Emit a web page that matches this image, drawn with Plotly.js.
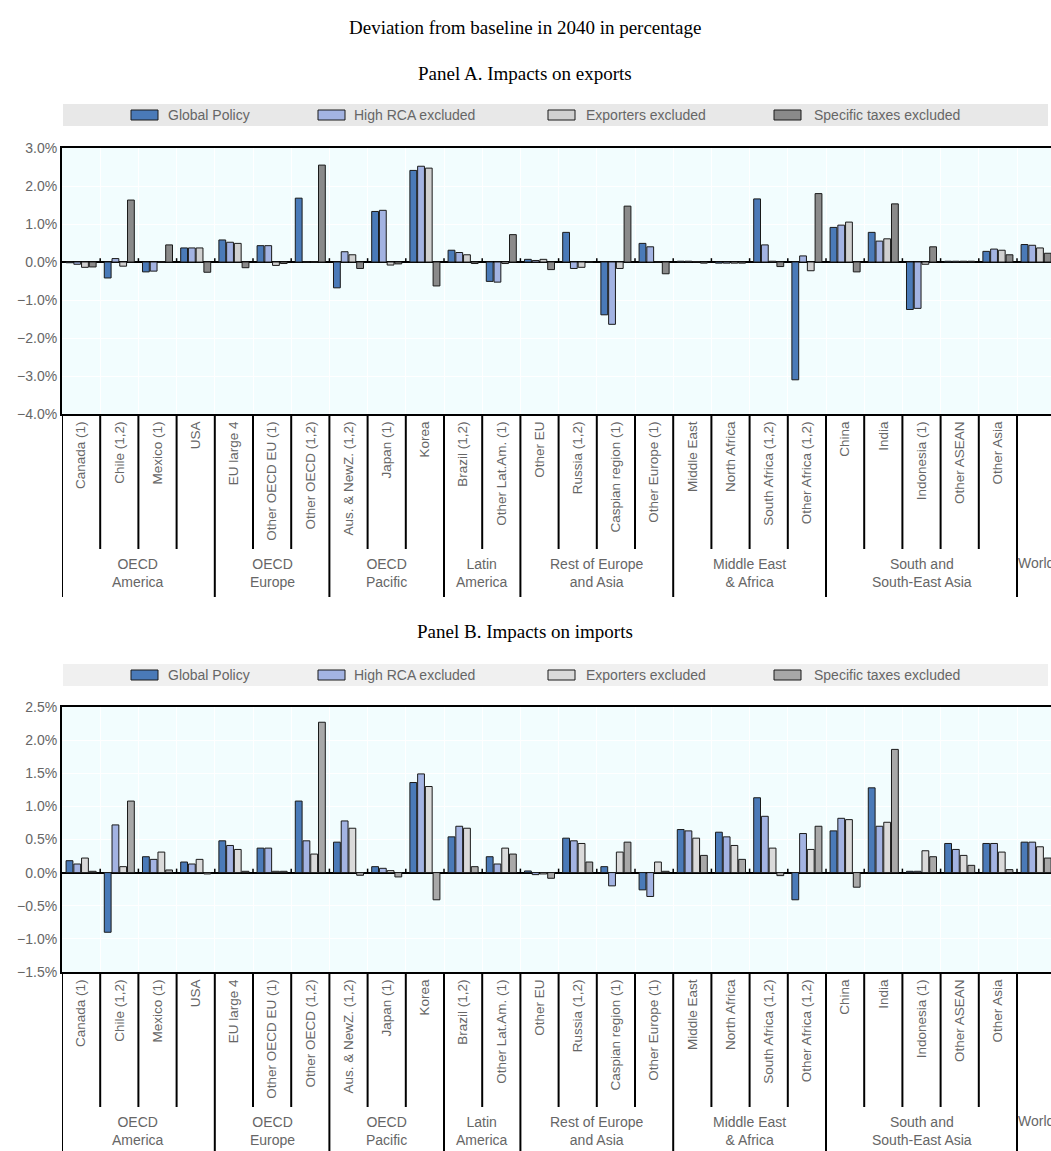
<!DOCTYPE html>
<html>
<head>
<meta charset="utf-8">
<script src="https://cdn.plot.ly/plotly-3.0.1.min.js"></script>
<style>
  body { margin: 0; background: #fff; }
  #chart { width: 1051px; height: 1151px; }
</style>
</head>
<body>
<div id="chart"></div>
<script>
// categories (regions) and their group headers
var categories = ["Canada (1)", "Chile (1,2)", "Mexico (1)", "USA", "EU large 4", "Other OECD EU (1)",
    "Other OECD (1,2)", "Aus. & NewZ. (1,2)", "Japan (1)", "Korea", "Brazil (1,2)", "Other Lat.Am. (1)",
    "Other EU", "Russia (1,2)", "Caspian region (1)", "Other Europe (1)", "Middle East", "North Africa",
    "South Africa (1,2)", "Other Africa (1,2)", "China", "India", "Indonesia (1)", "Other ASEAN",
    "Other Asia", "World"];
var groupNames = ["OECD<br>America", "OECD<br>Europe", "OECD<br>Pacific", "Latin<br>America",
    "Rest of Europe<br>and Asia", "Middle East<br>& Africa", "South and<br>South-East Asia", "World"];
var groupStarts = [0, 4, 7, 10, 12, 16, 20, 25];
var seriesNames = ["Global Policy", "High RCA excluded", "Exporters excluded", "Specific taxes excluded"];

// Panel A - exports, % deviation
var exportsGlobal = [-0.02, -0.42, -0.26, 0.37, 0.58, 0.43, 1.68, -0.68, 1.33, 2.41, 0.31, -0.51,
    0.07, 0.78, -1.39, 0.49, 0.02, -0.03, 1.66, -3.10, 0.91, 0.78, -1.25, 0.02, 0.28, 0.46];
var exportsHighRca = [-0.06, 0.09, -0.24, 0.37, 0.52, 0.43, 0.00, 0.27, 1.36, 2.52, 0.25, -0.53,
    0.04, -0.17, -1.64, 0.40, 0.02, -0.03, 0.45, 0.16, 0.97, 0.55, -1.22, 0.02, 0.34, 0.44];
var exportsExporters = [-0.14, -0.11, 0.00, 0.37, 0.49, -0.09, 0.00, 0.19, -0.08, 2.47, 0.19, -0.04,
    0.07, -0.14, -0.17, 0.00, 0.01, -0.03, 0.02, -0.23, 1.05, 0.61, -0.06, 0.02, 0.31, 0.37];
var exportsSpecific = [-0.13, 1.63, 0.45, -0.27, -0.15, -0.04, 2.55, -0.17, -0.05, -0.63, -0.04, 0.72,
    -0.20, 0.00, 1.47, -0.31, -0.03, -0.03, -0.12, 1.80, -0.26, 1.53, 0.40, 0.02, 0.19, 0.23];

// Panel B - imports, % deviation
var importsGlobal = [0.18, -0.90, 0.24, 0.16, 0.48, 0.37, 1.08, 0.46, 0.09, 1.36, 0.54, 0.24,
    0.025, 0.52, 0.09, -0.26, 0.65, 0.61, 1.13, -0.41, 0.63, 1.28, 0.02, 0.44, 0.44, 0.46];
var importsHighRca = [0.13, 0.72, 0.20, 0.13, 0.41, 0.37, 0.48, 0.78, 0.065, 1.49, 0.70, 0.13,
    -0.03, 0.48, -0.20, -0.36, 0.63, 0.54, 0.85, 0.59, 0.82, 0.70, 0.02, 0.35, 0.44, 0.46];
var importsExporters = [0.22, 0.09, 0.31, 0.20, 0.35, 0.02, 0.28, 0.67, 0.03, 1.30, 0.67, 0.37,
    -0.02, 0.44, 0.31, 0.16, 0.52, 0.41, 0.37, 0.35, 0.80, 0.76, 0.33, 0.26, 0.31, 0.39];
var importsSpecific = [0.02, 1.08, 0.04, -0.02, 0.02, 0.02, 2.27, -0.04, -0.065, -0.41, 0.09, 0.28,
    -0.085, 0.16, 0.46, 0.02, 0.26, 0.20, -0.045, 0.70, -0.22, 1.86, 0.24, 0.11, 0.045, 0.22];

var W = 1051, H = 1151;
function px(x) { return x / W; }
function py(y) { return 1 - y / H; }

var colorsA = ["#4a7ab8", "#a3b3e2", "#d0d0d0", "#8a8a8a"];
var colorsB = ["#4a7ab8", "#a3b3e2", "#dadada", "#a8a8a8"];
var labelFont = {family: "Liberation Sans, Arial, sans-serif", size: 14, color: "#666666"};
var serifFont = {family: "Liberation Serif, Times New Roman, serif", size: 19, color: "#000000"};

var panelA = [exportsGlobal, exportsHighRca, exportsExporters, exportsSpecific];
var panelB = [importsGlobal, importsHighRca, importsExporters, importsSpecific];

var traces = [];
for (var i = 0; i < 4; i++) {
    traces.push({
        type: "bar", x: categories, y: panelA[i], name: seriesNames[i],
        xaxis: "x", yaxis: "y", showlegend: false,
        marker: {color: colorsA[i], line: {color: "#1a1a1a", width: 1}},
        hoverinfo: "x+y+name"
    });
}
for (var i = 0; i < 4; i++) {
    traces.push({
        type: "bar", x: categories, y: panelB[i], name: seriesNames[i],
        xaxis: "x2", yaxis: "y2", showlegend: false,
        marker: {color: colorsB[i], line: {color: "#1a1a1a", width: 1}},
        hoverinfo: "x+y+name"
    });
}

// panel geometry in pixels: top/bottom of plot areas, legend band
var panels = [
    {title: "Panel A. Impacts on exports", titleY: 73, bandTop: 104, bandBot: 126, bandColor: "#e8e8e8",
     top: 148, bottom: 414, yaxis: "y", xaxis: "x", colors: colorsA, zeroTick: 0.1},
    {title: "Panel B. Impacts on imports", titleY: 631, bandTop: 664, bandBot: 686, bandColor: "#f0f0f0",
     top: 707, bottom: 972, yaxis: "y2", xaxis: "x2", colors: colorsB, zeroTick: 0.06}
];

var shapes = [];
var annotations = [{
    text: "Deviation from baseline in 2040 in percentage", xref: "paper", yref: "paper",
    x: px(525), y: py(27), xanchor: "center", yanchor: "middle", showarrow: false, font: serifFont
}];

var legendBoxX = [131, 318, 548, 774];
var legendTextX = [166, 352, 584, 812];

panels.forEach(function (p) {
    annotations.push({
        text: p.title, xref: "paper", yref: "paper", x: px(525), y: py(p.titleY),
        xanchor: "center", yanchor: "middle", showarrow: false, font: serifFont
    });
    // legend band
    shapes.push({type: "rect", xref: "paper", yref: "paper", x0: px(63), x1: px(1048),
        y0: py(p.bandBot), y1: py(p.bandTop), fillcolor: p.bandColor, line: {width: 0}, layer: "below"});
    var mid = (p.bandTop + p.bandBot) / 2;
    for (var k = 0; k < 4; k++) {
        shapes.push({type: "rect", xref: "paper", yref: "paper", x0: px(legendBoxX[k]), x1: px(legendBoxX[k] + 27),
            y0: py(mid + 5), y1: py(mid - 5), fillcolor: p.colors[k], line: {color: "#1a1a1a", width: 1}});
        annotations.push({text: seriesNames[k], xref: "paper", yref: "paper", x: px(legendTextX[k]), y: py(mid),
            xanchor: "left", yanchor: "middle", showarrow: false, font: labelFont});
    }
    // separators under the axis
    var xr = p.xaxis;
    for (var c = 0; c <= 25; c++) {
        var isGroup = groupStarts.indexOf(c) >= 0;
        var yEnd = isGroup ? p.bottom + 183 : p.bottom + 135;
        shapes.push({type: "line", xref: xr, yref: "paper", x0: c - 0.5, x1: c - 0.5,
            y0: py(p.bottom), y1: py(yEnd), line: {color: "#000000", width: 2}});
        if (c > 0) {
            shapes.push({type: "line", xref: xr, yref: p.yaxis, x0: c - 0.5, x1: c - 0.5,
                y0: 0, y1: p.zeroTick, line: {color: "#000000", width: 1.5}});
        }
    }
    for (var g = 0; g < groupNames.length; g++) {
        var last = g < groupNames.length - 1 ? groupStarts[g + 1] - 1 : categories.length - 1;
        var single = groupNames[g].indexOf("<br>") < 0;
        annotations.push({text: groupNames[g], xref: xr, yref: "paper",
            x: (groupStarts[g] + last) / 2, y: py(p.bottom + (single ? 149 : 159)),
            xanchor: "center", yanchor: "middle", showarrow: false, font: labelFont});
    }
});

function xAxis(anchor) {
    return {
        domain: [px(62), 1], anchor: anchor, type: "category",
        range: [-0.5, 25.39], tickson: "boundaries",
        tickvals: categories.slice(0, 25), ticktext: categories.slice(0, 25),
        tickangle: -90, tickfont: {family: labelFont.family, size: 13.5, color: "#666666"},
        showgrid: true, gridcolor: "#ffffff", gridwidth: 1,
        showline: true, linecolor: "#000000", linewidth: 2, mirror: true,
        ticks: "", fixedrange: true
    };
}

function yAxis(anchor, top, bottom, range, step) {
    return {
        domain: [py(bottom), py(top)], anchor: anchor, range: range, dtick: step,
        tickformat: ".1f", ticksuffix: "%", tickfont: labelFont,
        showgrid: true, gridcolor: "#ffffff", gridwidth: 1,
        zeroline: true, zerolinecolor: "#000000", zerolinewidth: 2,
        showline: true, linecolor: "#000000", linewidth: 2,
        ticks: "", fixedrange: true
    };
}

var layout = {
    width: W, height: H,
    margin: {l: 0, r: 0, t: 0, b: 0},
    paper_bgcolor: "#ffffff",
    plot_bgcolor: "#f2fdfe",
    barmode: "group", bargap: 0.19, bargroupgap: 0.12,
    xaxis: xAxis("y"),
    xaxis2: xAxis("y2"),
    yaxis: yAxis("x", 148, 414, [-4, 3], 1),
    yaxis2: yAxis("x2", 707, 972, [-1.5, 2.5], 0.5),
    shapes: shapes,
    annotations: annotations,
    showlegend: false
};

Plotly.newPlot("chart", traces, layout, {displayModeBar: false, staticPlot: true});
</script>
</body>
</html>
